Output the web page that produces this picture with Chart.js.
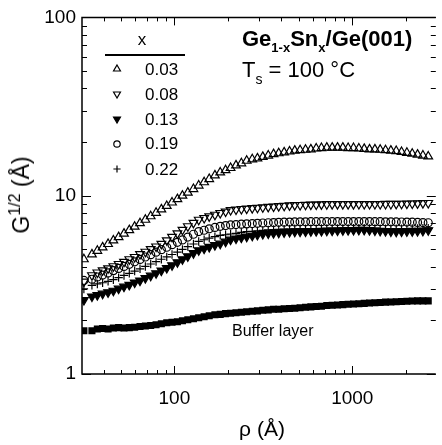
<!DOCTYPE html>
<html lang="en">
<head>
  <meta charset="UTF-8">
  <title>Ge1-xSnx/Ge(001) - G^1/2 vs rho</title>
  <style>
    body {
      margin: 0;
      background: #fff;
      font-family: Arial, 'Liberation Sans', sans-serif;
      color: #000;
    }

    #wrap {
      position: relative;
      width: 442px;
      height: 445px;
      overflow: hidden;
    }

    #plot {
      position: absolute;
      left: 0;
      top: 0;
    }

    .lbl {
      position: absolute;
      white-space: nowrap;
      line-height: 1;
    }

    .lbl sub, .lbl sup {
      line-height: 1;
    }

    #title { left: 242px; top: 28px; font-size: 22px; font-weight: 700; }
    #title sub { font-size: 13px; vertical-align: -6px; }
    #temp { left: 242px; top: 59px; font-size: 22px; }
    #temp sub { font-size: 14px; vertical-align: -7px; }

    #legHead { left: 102px; top: 31px; width: 80px; text-align: center; font-size: 17px; }
    #legRule { position: absolute; left: 105px; top: 54px; width: 80px; height: 1.5px; background: #000; }
    .leg { left: 145px; font-size: 17px; }

    #buffer { left: 232px; top: 323px; font-size: 16px; }

    #xTitle { left: 262px; top: 418px; font-size: 21px; transform: translateX(-50%); }
    #yTitle { left: 20px; top: 195px; font-size: 23px; transform: translate(-50%, -50%) rotate(-90deg); }
    #yTitle sup { font-size: 16px; vertical-align: 9px; }
  </style>
</head>
<body>
  <div id="wrap">
    <canvas id="plot" width="442" height="445"></canvas>

    <div class="lbl" id="title">Ge<sub>1-x</sub>Sn<sub>x</sub>/Ge(001)</div>
    <div class="lbl" id="temp">T<sub>s</sub> = 100 °C</div>

    <div class="lbl" id="legHead">x</div>
    <div id="legRule"></div>
    <div class="lbl leg" style="top: 61px">0.03</div>
    <div class="lbl leg" style="top: 86px">0.08</div>
    <div class="lbl leg" style="top: 111px">0.13</div>
    <div class="lbl leg" style="top: 135px">0.19</div>
    <div class="lbl leg" style="top: 161px">0.22</div>

    <div class="lbl" id="buffer">Buffer layer</div>

    <div class="lbl" id="xTitle">ρ (Å)</div>
    <div class="lbl" id="yTitle">G<sup>1/2</sup> (Å)</div>
  </div>

  <script src="https://cdn.jsdelivr.net/npm/chart.js"></script>
  <script>
    // lateral distance rho (Å), shared by all curves
    const rho = [31, 34.4, 36.9, 39.5, 42.4, 45.4, 48.6, 52.1, 55.8, 59.8, 64.1, 68.7, 73.6, 78.9, 84.5, 90.6,
      97.0, 104, 111, 119, 128, 137, 147, 157, 169, 181, 194, 207, 222, 238, 255, 274, 293, 314, 337, 361,
      386, 414, 444, 475, 509, 546, 585, 627, 671, 719, 771, 826, 885, 948, 1016, 1089, 1167, 1250, 1340,
      1435, 1538, 1648, 1766, 1892, 2028, 2173, 2328, 2495, 2673];

    // G^1/2 (Å) for each Sn fraction x
    const g003 = [4.4, 4.69, 4.91, 5.13, 5.36, 5.61, 5.86, 6.13, 6.41, 6.70, 7.01, 7.33, 7.67, 8.02, 8.38, 8.76,
      9.16, 9.57, 10.0, 10.4, 10.9, 11.4, 11.9, 12.4, 13.0, 13.5, 13.9, 14.3, 14.8, 15.2, 15.7, 16.0, 16.2,
      16.5, 16.8, 17.1, 17.3, 17.5, 17.7, 17.9, 18.0, 18.1, 18.2, 18.4, 18.5, 18.6, 18.6, 18.6, 18.6, 18.5,
      18.5, 18.4, 18.3, 18.2, 18.2, 18.1, 18.0, 17.9, 17.8, 17.6, 17.4, 17.2, 17.0, 16.8, 16.6];
    const g008 = [3.3, 3.58, 3.71, 3.81, 3.91, 4.02, 4.14, 4.26, 4.40, 4.53, 4.70, 4.85, 5.02, 5.19, 5.37, 5.62,
      5.88, 6.15, 6.44, 6.74, 7.04, 7.33, 7.50, 7.66, 7.82, 8.0, 8.15, 8.31, 8.37, 8.42, 8.46, 8.52, 8.56,
      8.61, 8.66, 8.70, 8.74, 8.78, 8.82, 8.85, 8.87, 8.89, 8.91, 8.92, 8.94, 8.96, 8.97, 8.97, 8.97, 8.97,
      8.97, 8.98, 8.98, 8.98, 8.98, 8.98, 8.99, 8.99, 9.0, 9.01, 9.03, 9.04, 9.06, 9.08, 9.1];
    const g013 = [2.6, 2.72, 2.77, 2.82, 2.87, 2.93, 3.01, 3.09, 3.16, 3.26, 3.34, 3.45, 3.56, 3.67, 3.80, 3.93,
      4.07, 4.23, 4.40, 4.57, 4.76, 4.94, 5.05, 5.16, 5.28, 5.38, 5.52, 5.67, 5.75, 5.82, 5.89, 5.96, 6.03,
      6.10, 6.14, 6.17, 6.20, 6.23, 6.26, 6.28, 6.29, 6.30, 6.32, 6.33, 6.34, 6.36, 6.37, 6.38, 6.40, 6.41,
      6.42, 6.43, 6.43, 6.41, 6.38, 6.35, 6.33, 6.30, 6.28, 6.30, 6.31, 6.32, 6.33, 6.35, 6.40];
    const g019 = [3.35, 3.40, 3.50, 3.59, 3.69, 3.80, 3.91, 4.01, 4.12, 4.26, 4.39, 4.53, 4.67, 4.82, 4.98, 5.14,
      5.31, 5.48, 5.65, 5.86, 6.08, 6.29, 6.40, 6.52, 6.64, 6.73, 6.80, 6.86, 6.89, 6.92, 6.95, 6.98, 7.00,
      7.03, 7.05, 7.07, 7.09, 7.10, 7.11, 7.13, 7.14, 7.14, 7.15, 7.15, 7.15, 7.16, 7.16, 7.16, 7.16, 7.16,
      7.16, 7.16, 7.16, 7.16, 7.15, 7.15, 7.14, 7.14, 7.13, 7.12, 7.11, 7.10, 7.08, 7.07, 7.05];
    const g022 = [3.0, 3.14, 3.20, 3.25, 3.31, 3.38, 3.47, 3.57, 3.67, 3.78, 3.89, 4.01, 4.14, 4.27, 4.40, 4.54,
      4.68, 4.83, 5.0, 5.18, 5.36, 5.54, 5.66, 5.78, 5.89, 5.99, 6.04, 6.10, 6.15, 6.22, 6.28, 6.31, 6.35,
      6.39, 6.43, 6.46, 6.47, 6.49, 6.50, 6.52, 6.53, 6.53, 6.54, 6.54, 6.55, 6.55, 6.55, 6.56, 6.56, 6.56,
      6.57, 6.57, 6.57, 6.56, 6.55, 6.54, 6.53, 6.52, 6.52, 6.53, 6.54, 6.55, 6.56, 6.57, 6.58];
    const gBuffer = [1.75, 1.75, 1.79, 1.80, 1.79, 1.81, 1.82, 1.81, 1.82, 1.83, 1.845, 1.86, 1.87, 1.89, 1.915,
      1.94, 1.95, 1.965, 1.99, 2.015, 2.04, 2.07, 2.095, 2.12, 2.15, 2.16, 2.18, 2.19, 2.205, 2.22, 2.235,
      2.25, 2.26, 2.28, 2.29, 2.305, 2.31, 2.32, 2.33, 2.34, 2.355, 2.37, 2.38, 2.39, 2.40, 2.42, 2.43, 2.44,
      2.45, 2.46, 2.47, 2.48, 2.49, 2.50, 2.51, 2.52, 2.53, 2.535, 2.545, 2.55, 2.56, 2.565, 2.57, 2.57, 2.57];

    const xTicks = [100, 1000];
    const yTicks = [1, 10, 100];
    const xMinor = [40, 50, 60, 70, 80, 90, 200, 300, 400, 500, 600, 700, 800, 900, 2000];
    const yMinor = [2, 3, 4, 5, 6, 7, 8, 9, 20, 30, 40, 50, 60, 70, 80, 90];

    const pts = arr => rho.map((r, i) => ({ x: r, y: arr[i] }));
    const hollow = 'rgba(0,0,0,0)';

    // frame plus inward tick marks on all four sides
    const frameTicks = {
      id: 'frameTicks',
      afterDraw(chart) {
        const { ctx, chartArea: a, scales: { x, y } } = chart;
        ctx.save();
        ctx.strokeStyle = '#000';
        ctx.lineWidth = 1.5;
        ctx.beginPath();
        ctx.moveTo(a.right, a.top);
        ctx.lineTo(a.left, a.top);
        ctx.lineTo(a.left, a.bottom);
        ctx.lineTo(a.right, a.bottom);
        ctx.stroke();

        ctx.lineWidth = 1;
        ctx.beginPath();
        const xAll = xMinor.map(v => [v, 4]).concat(xTicks.map(v => [v, 8]));
        xAll.forEach(([v, len]) => {
          const px = Math.round(x.getPixelForValue(v)) + 0.5;
          ctx.moveTo(px, a.bottom);
          ctx.lineTo(px, a.bottom - len);
          ctx.moveTo(px, a.top);
          ctx.lineTo(px, a.top + len);
        });
        const yAll = yMinor.map(v => [v, 5]).concat(yTicks.map(v => [v, 9]));
        yAll.forEach(([v, len]) => {
          const py = Math.round(y.getPixelForValue(v)) + 0.5;
          ctx.moveTo(a.left, py);
          ctx.lineTo(a.left + len, py);
          ctx.moveTo(a.right, py);
          ctx.lineTo(a.right - len, py);
        });
        ctx.stroke();

        // legend symbols, taken from the dataset styles
        const rows = [69, 94, 119, 144, 169];
        rows.forEach((ry, i) => {
          const ds = chart.data.datasets[i];
          ctx.fillStyle = ds.backgroundColor;
          ctx.strokeStyle = ds.borderColor;
          ctx.lineWidth = ds.borderWidth;
          Chart.helpers.drawPoint(ctx, {
            pointStyle: ds.pointStyle,
            rotation: ds.pointRotation || 0,
            radius: ds.legendRadius,
            borderWidth: ds.borderWidth
          }, 117, ry);
        });
        ctx.restore();
      }
    };

    new Chart(document.getElementById('plot'), {
      type: 'scatter',
      data: {
        datasets: [
          { label: '0.03', data: pts(g003), pointStyle: 'triangle', pointRadius: 5, legendRadius: 4,
            borderColor: '#000', backgroundColor: hollow, borderWidth: 1.2 },
          { label: '0.08', data: pts(g008), pointStyle: 'triangle', pointRotation: 180,
            pointRadius: 5, legendRadius: 4, borderColor: '#000', backgroundColor: hollow, borderWidth: 1.2 },
          { label: '0.13', data: pts(g013), pointStyle: 'triangle', pointRotation: 180,
            pointRadius: 5, legendRadius: 4, borderColor: '#000', backgroundColor: '#000', borderWidth: 1.2 },
          { label: '0.19', data: pts(g019), pointStyle: 'circle', pointRadius: 4, legendRadius: 3.2,
            borderColor: '#000', backgroundColor: hollow, borderWidth: 1.2 },
          { label: '0.22', data: pts(g022), pointStyle: 'cross', pointRadius: 4.2, legendRadius: 3.6,
            borderColor: '#000', backgroundColor: hollow, borderWidth: 1.2 },
          { label: 'Buffer layer', data: pts(gBuffer), pointStyle: 'rect', pointRadius: 5,
            borderColor: '#000', backgroundColor: '#000', borderWidth: 0 }
        ]
      },
      options: {
        responsive: false,
        animation: false,
        devicePixelRatio: 1,
        layout: { padding: { top: 13, right: 0, bottom: 0, left: 0 } },
        plugins: { legend: { display: false }, tooltip: { enabled: false } },
        scales: {
          x: {
            type: 'logarithmic',
            min: 30.25,
            max: 2948,
            grid: { display: false, drawTicks: false },
            border: { display: false },
            afterBuildTicks: s => { s.ticks = xTicks.map(v => ({ value: v })); },
            afterFit: s => { s.height = 71; },
            ticks: {
              padding: 13,
              color: '#000',
              font: { family: 'Arial', size: 19 },
              maxRotation: 0,
              callback: v => String(v)
            }
          },
          y: {
            type: 'logarithmic',
            min: 1,
            max: 100,
            grid: { display: false, drawTicks: false },
            border: { display: false },
            afterBuildTicks: s => { s.ticks = yTicks.map(v => ({ value: v })); },
            afterFit: s => { s.width = 82; },
            ticks: {
              padding: 6,
              color: '#000',
              font: { family: 'Arial', size: 19 },
              callback: v => String(v)
            }
          }
        }
      },
      plugins: [frameTicks]
    });
  </script>
</body>
</html>
